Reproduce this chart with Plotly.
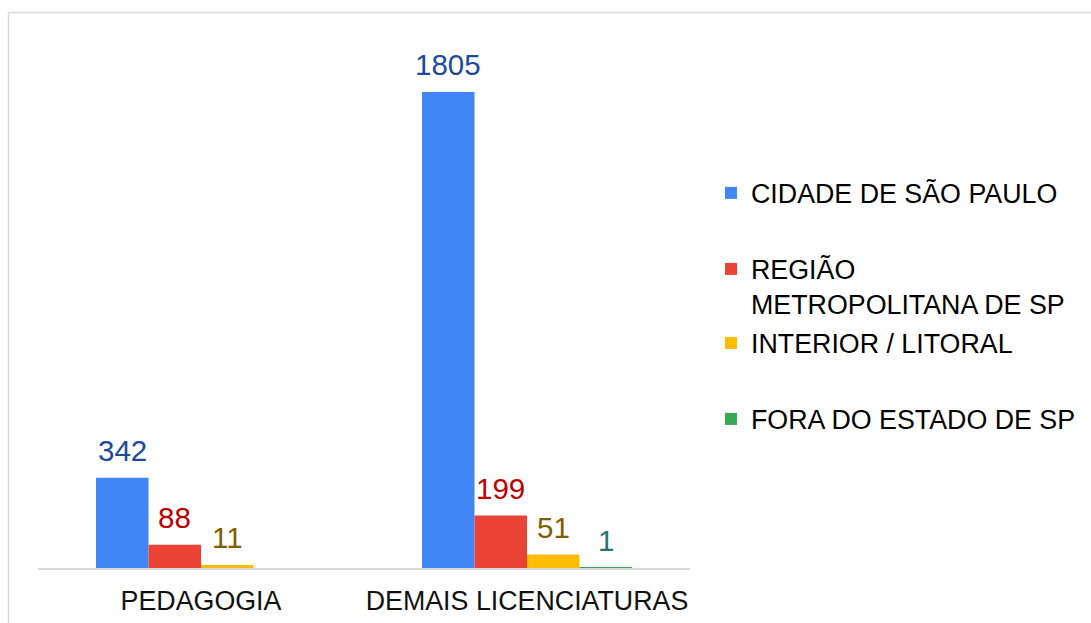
import plotly.graph_objects as go

categories = ["PEDAGOGIA", "DEMAIS LICENCIATURAS"]
series_names = ["CIDADE DE SÃO PAULO", "REGIÃO<br>METROPOLITANA DE SP",
                "INTERIOR / LITORAL", "FORA DO ESTADO DE SP"]
cidade_sp = [342, 1805]
regiao_metro = [88, 199]
interior_litoral = [11, 51]
fora_estado = [0, 1]

bar_colors = ["#4285F4", "#EA4335", "#FBBC04", "#34A853"]
label_colors = ["#1C4A9C", "#C00000", "#7F6000", "#2A7272"]

W, H = 1091, 623
L, R, T, B = 38, 690, 40, 568
FONT = "Arial, 'Liberation Sans', sans-serif"
FS = 26.8
FS_LABEL = 29.5
BARGAP = 0.356

def px_x(px):
    return (px - L) / (R - L)

def px_y(py):
    return (B - py) / (B - T)

values = [cidade_sp, regiao_metro, interior_litoral, fora_estado]
legend_ids = ["legend", "legend2", "legend3", "legend4"]
legend_line_y = [194, 270, 344, 420]

fig = go.Figure()
for name, vals, col, lid in zip(series_names, values, bar_colors, legend_ids):
    fig.add_trace(go.Bar(
        x=categories, y=vals, name=name, marker_color=col, marker_line_width=0,
        legend=lid, hoverinfo="x+y+name",
    ))

# value labels placed through the axes, one per bar
n = len(values)
bar_w = (1 - BARGAP) / n
annotations = []
for i, (vals, lcol) in enumerate(zip(values, label_colors)):
    for j, v in enumerate(vals):
        if not v:
            continue
        annotations.append(dict(
            x=j - (1 - BARGAP) / 2 + bar_w * (i + 0.5), y=v, xref="x", yref="y",
            text=str(v), showarrow=False, yanchor="bottom", yshift=9,
            font=dict(color=lcol, size=FS_LABEL, family=FONT),
        ))

layout_legends = {}
for lid, ly in zip(legend_ids, legend_line_y):
    layout_legends[lid] = dict(
        x=px_x(711), xanchor="left", y=px_y(ly - 25), yanchor="top",
        font=dict(size=FS, family=FONT, color="#000000"),
        valign="top", bgcolor="rgba(0,0,0,0)", borderwidth=0,
    )

shapes = [
    dict(type="line", xref="paper", yref="paper", x0=px_x(8.5), x1=px_x(W + 5),
         y0=px_y(12.5), y1=px_y(12.5), line=dict(color="#D9D9D9", width=1.5)),
    dict(type="line", xref="paper", yref="paper", x0=px_x(8.5), x1=px_x(8.5),
         y0=px_y(12.5), y1=px_y(H + 5), line=dict(color="#D9D9D9", width=1.5)),
]

fig.update_layout(
    width=W, height=H,
    margin=dict(l=L, r=W - R, t=T, b=H - B, pad=0, autoexpand=False),
    paper_bgcolor="white", plot_bgcolor="white",
    barmode="group", bargap=BARGAP, bargroupgap=0,
    showlegend=True,
    shapes=shapes,
    annotations=annotations,
    xaxis=dict(range=[-0.5, 1.5], showline=True, linecolor="#D9D9D9", linewidth=2,
               ticks="", showgrid=False, zeroline=False, ticklabelstandoff=8,
               automargin=False,
               tickfont=dict(size=FS, family=FONT, color="#111111")),
    yaxis=dict(range=[0, 2002], visible=False, showgrid=False, zeroline=False,
               automargin=False),
    **layout_legends,
)

fig.write_html("out.html", config={"displayModeBar": False},
               post_script="document.body.style.margin='0px';document.body.style.overflow='hidden';")
